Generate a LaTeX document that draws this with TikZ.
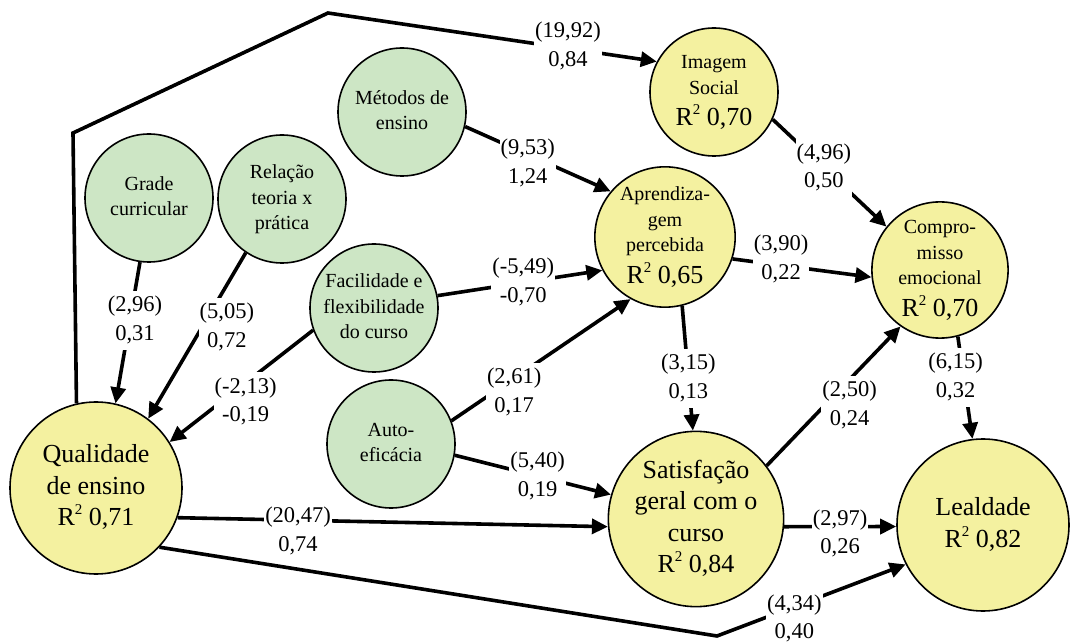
\documentclass[tikz,border=0pt]{standalone}
\usepackage{fontspec}
\setmainfont{Liberation Serif}
\usepackage{xcolor}
\usepackage{tikz}
\usetikzlibrary{arrows.meta}
\definecolor{verde}{RGB}{205,230,197}
\definecolor{amarelo}{RGB}{244,241,160}
\newcommand{\Rq}[1]{{\fontsize{26}{30}\selectfont R\raisebox{0.42em}{\fontsize{15}{15}\selectfont 2} #1}}
\newcommand{\ct}[1]{\begin{tabular}{@{}c@{}}#1\end{tabular}}

\begin{document}
\begin{tikzpicture}[x=1pt, y=-1pt,
  var/.style={circle, draw, line width=1.6pt, inner sep=0pt},
  exo/.style={var, fill=verde, minimum size=128pt, font=\fontsize{20}{25.5}\selectfont},
  endo/.style={var, fill=amarelo, minimum size=128pt, font=\fontsize{20}{25.5}\selectfont},
  big/.style={var, fill=amarelo, minimum size=172pt, font=\fontsize{26}{31.5}\selectfont},
  seta/.style={line width=3.6pt, -{Triangle[length=16pt, width=15pt]}},
  lab/.style={fill=white, inner sep=1pt, font=\fontsize{22.5}{28.5}\selectfont}]
  \useasboundingbox (0,0) rectangle (1080,644);
  % exogenous constructs
  \node[exo] (ME) at (402,112) {\ct{Métodos de\\ensino}};
  \node[exo] (GC) at (149,198) {\ct{Grade\\curricular}};
  \node[exo] (RT) at (282,199) {\ct{Relação\\teoria x\\prática}};
  \node[exo] (FF) at (374,308) {\ct{Facilidade e\\flexibilidade\\do curso}};
  \node[exo] (AE) at (391,444) {\ct{Auto-\\eficácia}};
  % endogenous constructs
  \node[big] (Q) at (96,488) {\ct{Qualidade\\de ensino\\\Rq{0,71}}};
  \node[endo] (IS) at (714,92) {\ct{Imagem\\Social\\[3pt]\Rq{0,70}}};
  \node[endo] (AP) at (665,237) {\ct{Aprendiza-\\gem\\percebida\\[3pt]\Rq{0,65}}};
  \node[endo] (CE) at (940,270) {\ct{Compro-\\misso\\emocional\\[3pt]\Rq{0,70}}};
  \node[big] (SG) at (696,519) {\ct{Satisfação\\geral com o\\curso\\\Rq{0,84}}};
  \node[big] (L) at (983,525) {\ct{Lealdade\\\Rq{0,82}}};
  \coordinate (c1) at (73,133);
  \coordinate (c2) at (328,13);
  \coordinate (c3) at (717,636);
  % paths
  \draw[seta] (Q.103) -- (c1) -- (c2) -- node[lab, pos=0.73, yshift=2pt] {\ct{(19,92)\\0,84}} (IS.152);
  \draw[seta] (ME.-13) -- node[lab, pos=0.43, yshift=-9pt] {\ct{(9,53)\\1,24}} (AP.140);
  \draw[seta] (FF.11) -- node[lab, pos=0.52] {\ct{(-5,49)\\-0,70}} (AP.208);
  \draw[seta] (AE.21) -- node[lab, pos=0.35, yshift=-14pt] {\ct{(2,61)\\0,17}} (AP.241);
  \draw[seta] (AE.-10) -- node[lab, pos=0.53] {\ct{(5,40)\\0,19}} (SG.164);
  \draw[seta] (AP.-76) -- node[lab, pos=0.58] {\ct{(3,15)\\0,13}} (SG.92);
  \draw[seta] (AP.-18) -- node[lab, pos=0.35, yshift=6pt] {\ct{(3,90)\\0,22}} (CE.186);
  \draw[seta] (IS.-25) -- node[lab, pos=0.45] {\ct{(4,96)\\0,50}} (CE.141);
  \draw[seta] (SG.37) -- node[lab, pos=0.5, xshift=16pt, yshift=-9pt] {\ct{(2,50)\\0,24}} (CE.235);
  \draw[seta] (CE.-75) -- node[lab, pos=0.4, xshift=-8pt] {\ct{(6,15)\\0,32}} (L.97);
  \draw[seta] (SG.-5) -- node[lab, pos=0.5, yshift=-7pt] {\ct{(2,97)\\0,26}} (L.181);
  \draw[seta] (Q.-20) -- node[lab, pos=0.28, yshift=-11pt] {\ct{(20,47)\\0,74}} (SG.185);
  \draw[seta] (Q.-43) -- (c3) -- node[lab, pos=0.41, yshift=-12pt] {\ct{(4,34)\\0,40}} (L.207);
  \draw[seta] (GC.262) -- node[lab, pos=0.41, xshift=5pt] {\ct{(2,96)\\0,31}} (Q.77);
  \draw[seta] (RT.236) -- node[lab, pos=0.45, xshift=25pt] {\ct{(5,05)\\0,72}} (Q.53);
  \draw[seta] (FF.200) -- node[lab, pos=0.47, yshift=-19pt] {\ct{(-2,13)\\-0,19}} (Q.32);
\end{tikzpicture}
\end{document}
